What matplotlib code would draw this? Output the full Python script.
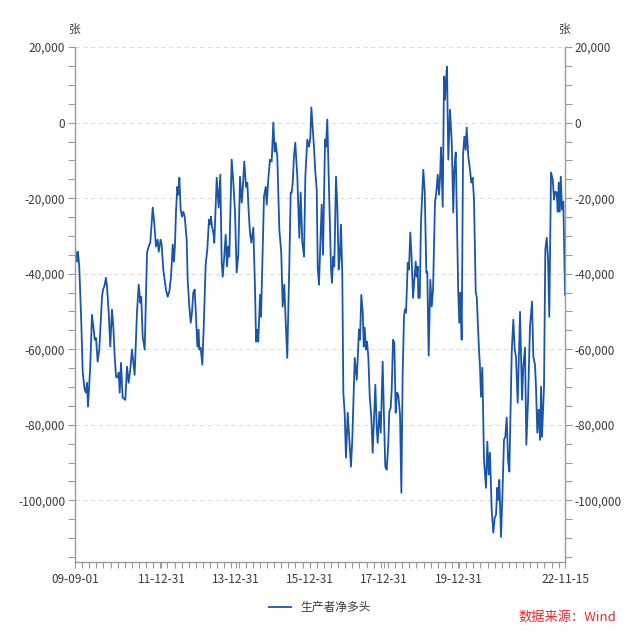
import numpy as np
import pandas as pd
import matplotlib
matplotlib.use("Agg")
import matplotlib.pyplot as plt
import matplotlib.dates as mdates
from matplotlib.ticker import FuncFormatter, MultipleLocator

plt.rcParams['font.family'] = ['Noto Sans CJK SC', 'DejaVu Sans']

# 生产者净多头 (张)
dates = [
    '2009-09-01', '2009-09-21', '2009-09-30', '2009-10-13', '2009-11-02', '2009-11-16', '2009-12-05', '2009-12-18',
    '2009-12-28', '2010-01-07', '2010-01-29', '2010-02-15', '2010-03-04', '2010-03-14', '2010-03-27', '2010-04-12',
    '2010-04-28', '2010-05-25', '2010-06-04', '2010-06-16', '2010-07-03', '2010-07-13', '2010-07-30', '2010-08-14',
    '2010-08-31', '2010-09-13', '2010-09-27', '2010-10-10', '2010-10-26', '2010-11-05', '2010-11-15', '2010-11-28',
    '2010-12-14', '2011-01-09', '2011-01-26', '2011-02-11', '2011-02-27', '2011-03-16', '2011-04-02', '2011-04-11',
    '2011-05-04', '2011-05-21', '2011-06-06', '2011-06-15', '2011-06-29', '2011-07-19', '2011-08-11', '2011-08-27',
    '2011-09-12', '2011-09-22', '2011-10-06', '2011-10-21', '2011-11-07', '2011-11-24', '2011-12-04', '2011-12-23',
    '2012-01-02', '2012-01-18', '2012-02-13', '2012-03-01', '2012-03-17', '2012-04-03', '2012-04-20', '2012-05-02',
    '2012-05-12', '2012-05-22', '2012-06-04', '2012-06-14', '2012-06-24', '2012-07-07', '2012-07-20', '2012-08-02',
    '2012-08-16', '2012-09-04', '2012-09-14', '2012-09-30', '2012-10-14', '2012-10-26', '2012-11-08', '2012-11-22',
    '2012-12-05', '2012-12-18', '2012-12-31', '2013-01-06', '2013-01-20', '2013-02-05', '2013-02-19', '2013-03-10',
    '2013-03-26', '2013-04-12', '2013-04-22', '2013-05-01', '2013-05-11', '2013-05-24', '2013-06-03', '2013-06-27',
    '2013-07-16', '2013-08-01', '2013-08-15', '2013-08-25', '2013-09-09', '2013-09-23', '2013-10-06', '2013-10-19',
    '2013-10-29', '2013-11-04', '2013-11-21', '2013-12-07', '2013-12-24', '2014-01-09', '2014-01-25', '2014-02-11',
    '2014-02-28', '2014-03-10', '2014-03-25', '2014-04-11', '2014-04-24', '2014-05-08', '2014-05-20', '2014-06-02',
    '2014-06-22', '2014-07-09', '2014-07-19', '2014-07-31', '2014-08-10', '2014-08-27', '2014-09-06', '2014-09-22',
    '2014-10-05', '2014-10-22', '2014-11-01', '2014-11-16', '2014-12-03', '2014-12-20', '2015-01-05', '2015-01-18',
    '2015-01-28', '2015-02-13', '2015-03-05', '2015-03-24', '2015-04-07', '2015-04-23', '2015-05-07', '2015-05-22',
    '2015-06-11', '2015-06-25', '2015-07-05', '2015-07-15', '2015-07-27', '2015-08-09', '2015-08-29', '2015-09-18',
    '2015-10-01', '2015-10-17', '2015-11-03', '2015-11-16', '2015-12-05', '2015-12-22', '2016-01-04', '2016-01-14',
    '2016-01-27', '2016-02-09', '2016-02-22', '2016-03-07', '2016-03-17', '2016-03-29', '2016-04-11', '2016-04-25',
    '2016-05-08', '2016-05-28', '2016-06-06', '2016-06-19', '2016-07-09', '2016-07-26', '2016-08-04', '2016-08-17',
    '2016-08-27', '2016-09-13', '2016-09-26', '2016-10-09', '2016-10-19', '2016-11-01', '2016-11-14', '2016-11-24',
    '2016-12-07', '2016-12-20', '2017-01-06', '2017-01-22', '2017-02-07', '2017-02-20', '2017-03-16', '2017-04-05',
    '2017-04-17', '2017-04-27', '2017-05-07', '2017-05-20', '2017-06-03', '2017-06-13', '2017-06-22', '2017-07-05',
    '2017-07-15', '2017-07-28', '2017-08-11', '2017-08-26', '2017-09-09', '2017-09-22', '2017-10-05', '2017-10-18',
    '2017-10-28', '2017-11-13', '2017-11-27', '2017-12-16', '2017-12-29', '2018-01-11', '2018-01-25', '2018-02-09',
    '2018-02-19', '2018-03-05', '2018-03-15', '2018-03-28', '2018-04-10', '2018-04-23', '2018-05-06', '2018-05-19',
    '2018-06-05', '2018-06-18', '2018-07-01', '2018-07-14', '2018-07-24', '2018-08-03', '2018-08-20', '2018-09-01',
    '2018-09-14', '2018-09-28', '2018-10-11', '2018-10-24', '2018-11-06', '2018-11-16', '2018-11-26', '2018-12-02',
    '2018-12-16', '2018-12-28', '2019-01-20', '2019-02-03', '2019-02-19', '2019-02-28', '2019-03-14', '2019-03-30',
    '2019-04-13', '2019-04-26', '2019-05-15', '2019-05-28', '2019-06-11', '2019-06-24', '2019-07-06', '2019-07-13',
    '2019-07-30', '2019-08-12', '2019-08-22', '2019-08-31', '2019-09-10', '2019-09-23', '2019-10-10', '2019-10-27',
    '2019-11-11', '2019-11-21', '2019-12-05', '2019-12-18', '2019-12-30', '2020-01-09', '2020-01-19', '2020-02-02',
    '2020-02-15', '2020-02-28', '2020-03-12', '2020-03-22', '2020-04-07', '2020-04-24', '2020-05-06', '2020-05-20',
    '2020-06-02', '2020-06-19', '2020-06-29', '2020-07-21', '2020-07-31', '2020-08-10', '2020-08-23', '2020-09-08',
    '2020-09-28', '2020-10-11', '2020-10-25', '2020-11-06', '2020-11-23', '2020-12-09', '2020-12-23', '2021-01-05',
    '2021-01-17', '2021-01-27', '2021-02-06', '2021-02-23', '2021-03-08', '2021-03-24', '2021-04-06', '2021-04-20',
    '2021-05-03', '2021-05-16', '2021-06-08', '2021-06-24', '2021-07-08', '2021-07-20', '2021-08-06', '2021-08-29',
    '2021-09-18', '2021-09-30', '2021-10-17', '2021-10-30', '2021-11-16', '2021-12-05', '2021-12-25', '2022-01-07',
    '2022-01-23', '2022-02-02', '2022-02-15', '2022-03-01', '2022-03-14', '2022-03-24', '2022-04-02', '2022-04-22',
    '2022-05-05', '2022-05-19', '2022-06-01', '2022-06-13', '2022-06-30', '2022-07-17', '2022-07-30', '2022-08-11',
    '2022-08-25', '2022-09-04', '2022-09-14', '2022-09-24', '2022-10-04', '2022-10-16', '2022-10-29', '2022-11-15',
]
net_long = [
    -33100, -36800, -34200, -38100, -53000, -66200, -70700, -71500,
    -68900, -75200, -64600, -50900, -54800, -57500, -57000, -63300,
    -60100, -46100, -44200, -43400, -41100, -43400, -50300, -59300,
    -49500, -54000, -62000, -67300, -67500, -66200, -71500, -63600,
    -72800, -73400, -64600, -68900, -65400, -60100, -64600, -66800,
    -50300, -42900, -47700, -46100, -56700, -60100, -34400, -32800,
    -31800, -27800, -22500, -26500, -32800, -31000, -34200, -31000,
    -32300, -38900, -44200, -46100, -44800, -40800, -32300, -36800,
    -32300, -23600, -17000, -19100, -14600, -23000, -24900, -23600,
    -24900, -31000, -41600, -48700, -53000, -50300, -45000, -44200,
    -51400, -59300, -54800, -60100, -59600, -64100, -54000, -37600,
    -33600, -25700, -27000, -24900, -27500, -29100, -31800, -14600,
    -22500, -13800, -37100, -40800, -35500, -29700, -38100, -32800,
    -35500, -28300, -9800, -15600, -23800, -39700, -35000, -14300,
    -21200, -17700, -10300, -17000, -15900, -23800, -29100, -31800,
    -27800, -44200, -58000, -54800, -58000, -45600, -51400, -33600,
    -19600, -17000, -21700, -15100, -9800, -10300, 0, -7700,
    -5300, -9000, -28300, -34400, -48700, -42900, -53000, -62300,
    -38100, -18500, -18500, -15900, -9000, -5300, -14300, -30500,
    -18500, -31500, -35500, -14300, -4500, -6400, -4000, 4000,
    -1100, -6400, -13000, -17700, -38400, -42900, -32800, -21700,
    -35000, -4500, -6400, 800, -21200, -38900, -42400, -35500,
    -38100, -14300, -22300, -38900, -36300, -27000, -40800, -71500,
    -76800, -88700, -76800, -84000, -91100, -84000, -62300, -68100,
    -60900, -54800, -57500, -45600, -50300, -59300, -54300, -60100,
    -58000, -62000, -72600, -77900, -87400, -78700, -69400, -80500,
    -84800, -76600, -82100, -63300, -77900, -91100, -91900, -85300,
    -76600, -75500, -70700, -57500, -58300, -76800, -71500, -72100,
    -77400, -98000, -66200, -51400, -49500, -50300, -37100, -38900,
    -29100, -36300, -46400, -41600, -36800, -40800, -38100, -46400,
    -46400, -26500, -12500, -18300, -39700, -39500, -61700, -41600,
    -48700, -44200, -21200, -18500, -13800, -19100, -13200, -6600,
    -22300, 12200, 6100, 11400, 14800, -9800, 3400, -5300,
    -23800, -12500, -7900, -27500, -45000, -53000, -45000, -57500,
    -8500, -3700, -7200, -1300, -9000, -12500, -15900, -14600,
    -20400, -45000, -46100, -60100, -64600, -72600, -64900, -89300,
    -96700, -84500, -93200, -87400, -102500, -108600, -104600, -103800,
    -96700, -99900, -94600, -109700, -99100, -84000, -83200, -78100,
    -89300, -92400, -60900, -52200, -60100, -62000, -74200, -50100,
    -73400, -64600, -59600, -85300, -73400, -54000, -47400, -62000,
    -64100, -69900, -82100, -76000, -84000, -69900, -83200, -69900,
    -33600, -30500, -36300, -51400, -13200, -15100, -20400, -18300,
    -18500, -23600, -15900, -23600, -14300, -23000, -20900, -45600,
]

x_labels = ['09-09-01', '11-12-31', '13-12-31', '15-12-31', '17-12-31', '19-12-31', '22-11-15']
x_label_dates = ['2009-09-01', '2011-12-31', '2013-12-31', '2015-12-31', '2017-12-31', '2019-12-31', '2022-11-15']

series_name = '生产者净多头'
unit = '张'
source = '数据来源：Wind'

t = pd.to_datetime(dates)
tick_dates = pd.to_datetime(x_label_dates)

fig = plt.figure(figsize=(6.41, 6.32), dpi=100)
ax = fig.add_axes([0.117, 0.111, 0.7645, 0.8145])

line_color = '#1a55a8'
axis_color = '#9a9a9a'
text_color = '#3a3a3a'

ax.plot(t, net_long, color=line_color, lw=1.3, label=series_name, solid_joinstyle='round')

ax.set_xlim(t[0], t[-1])
ax.set_ylim(-116300, 20000)

ax.yaxis.set_major_locator(MultipleLocator(20000))
ax.yaxis.set_minor_locator(MultipleLocator(5000))
ax.yaxis.set_major_formatter(FuncFormatter(lambda v, p: f'{int(v):,}'))
ax.grid(axis='y', which='major', color='#dddddd', linestyle=(0, (4, 3)), lw=0.8)

ax.set_xticks(tick_dates)
ax.set_xticklabels(x_labels)
minor = pd.date_range(t[0], t[-1], freq='70D').append(pd.DatetimeIndex([t[-1]]))
ax.set_xticks(minor, minor=True)

ax.spines['top'].set_visible(False)
for s in ['left', 'right', 'bottom']:
    ax.spines[s].set_color(axis_color)
    ax.spines[s].set_linewidth(1.0)

ax.tick_params(axis='y', which='both', left=True, right=True, labelleft=True, labelright=True,
               colors=axis_color, labelcolor=text_color, labelsize=8.5, width=0.8)
ax.tick_params(axis='y', which='major', length=5, pad=2)
ax.tick_params(axis='y', which='minor', length=5)
ax.tick_params(axis='x', which='both', length=4, width=0.8, colors=axis_color,
               labelcolor=text_color, labelsize=8.5, pad=4)

ax.text(0.0, 1.022, unit, transform=ax.transAxes, ha='center', va='bottom', fontsize=8.5, color=text_color)
ax.text(1.0, 1.022, unit, transform=ax.transAxes, ha='center', va='bottom', fontsize=8.5, color=text_color)

ax.legend(loc='upper center', bbox_to_anchor=(0.5, -0.055), frameon=False, fontsize=8.5,
          handlelength=1.8, labelcolor=text_color)

fig.text(0.962, 0.024, source, ha='right', va='center', fontsize=9.5, color='#e8282e')

fig.savefig('out.png', dpi=100)
